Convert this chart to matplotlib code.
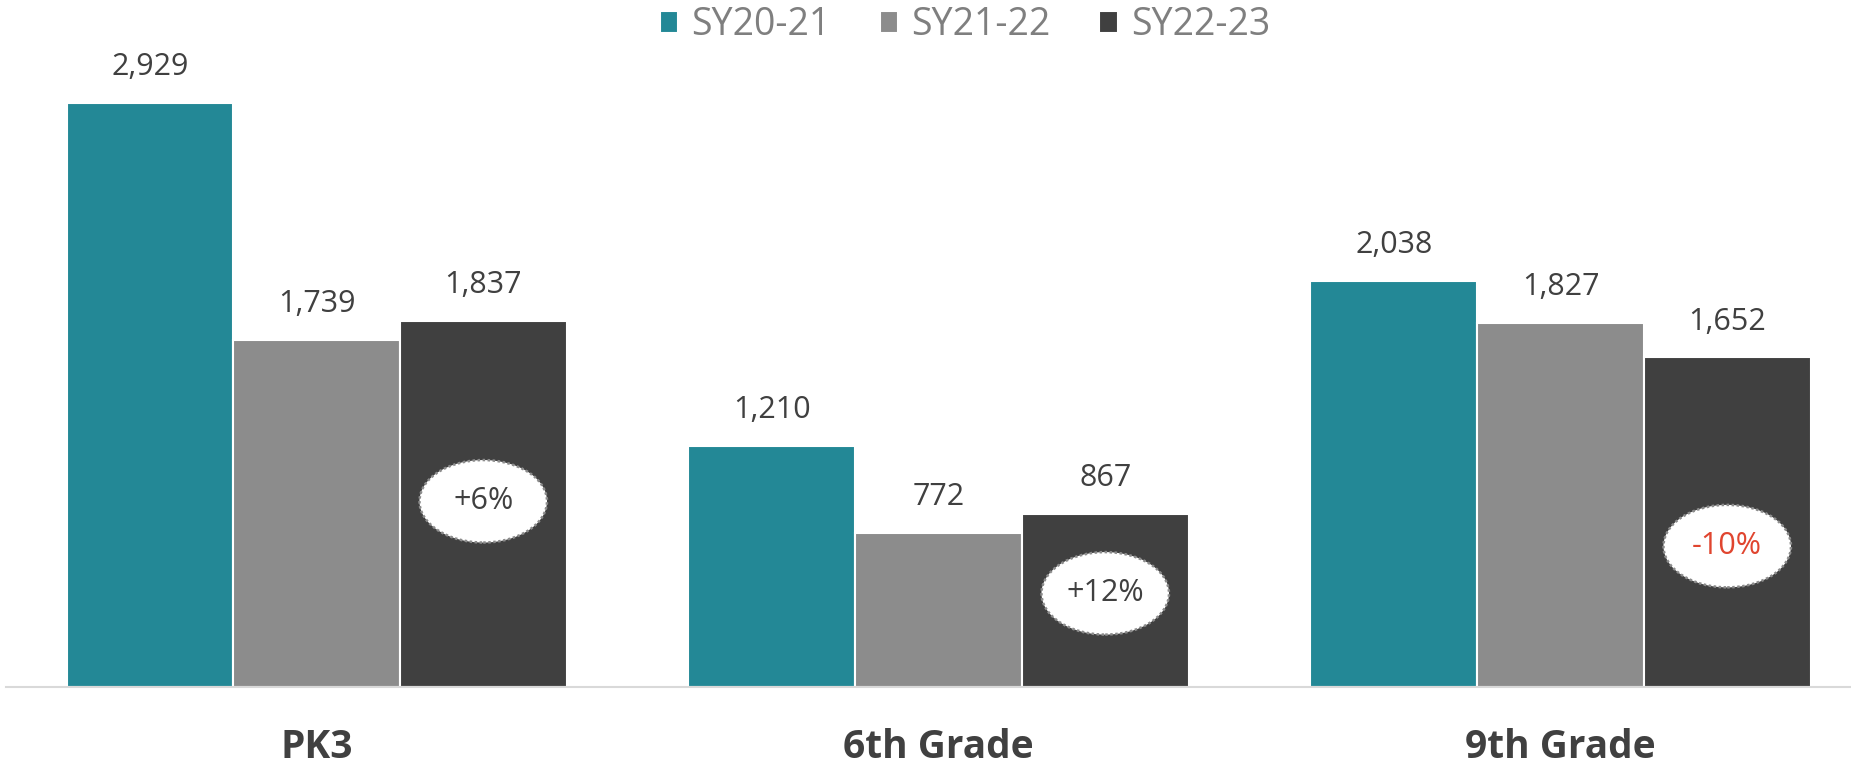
import matplotlib.pyplot as plt
from matplotlib.patches import Ellipse
import numpy as np

# data
grades = ['PK3', '6th Grade', '9th Grade']
years = ['SY20-21', 'SY21-22', 'SY22-23']
sy2021 = [2929, 1210, 2038]
sy2122 = [1739, 772, 1827]
sy2223 = [1837, 867, 1652]
colors = ['#238896', '#8c8c8c', '#404040']

# where the change bubbles sit inside the last bar (data units)
bubble_y = [930, 468, 705]

plt.rcParams['font.family'] = ['Open Sans', 'DejaVu Sans']

fig = plt.figure(figsize=(18.51, 7.68), dpi=100)
ax = fig.add_axes([0.003, 0.106, 0.997, 0.894])

x = np.arange(len(grades))
w = 0.268
series = [sy2021, sy2122, sy2223]
for i, (vals, lab, c) in enumerate(zip(series, years, colors)):
    bars = ax.bar(x + (i - 1) * w, vals, width=w, color=c, edgecolor='white',
                  linewidth=1.5, label=lab)
    for b, v in zip(bars, vals):
        ax.text(b.get_x() + b.get_width() / 2, v + 105, f'{v:,}', ha='center',
                va='bottom', fontsize=22, color='#404040')

# percent change bubbles (SY21-22 -> SY22-23)
for xi, a, b, yb in zip(x, sy2122, sy2223, bubble_y):
    pct = round((b - a) / a * 100)
    txt = f'{pct:+d}%'
    col = '#e0452f' if pct < 0 else '#404040'
    ax.add_patch(Ellipse((xi + w, yb), 0.205, 414, facecolor='white',
                         edgecolor='#8c8c8c', linestyle=(0, (1, 1)), linewidth=1.8,
                         zorder=3))
    ax.text(xi + w, yb, txt, ha='center', va='center', fontsize=22, color=col, zorder=4)

ax.set_xlim(-0.5, 2.467)
ax.set_ylim(0, 3446)
ax.set_xticks(x)
ax.set_xticklabels(grades, fontsize=28, fontweight='bold', color='#404040')
ax.tick_params(axis='x', length=0, pad=30)
ax.set_yticks([])
for s in ['top', 'right', 'left']:
    ax.spines[s].set_visible(False)
ax.spines['bottom'].set_color('#d9d9d9')
ax.spines['bottom'].set_linewidth(1.5)

leg = ax.legend(loc='upper center', bbox_to_anchor=(0.52, 1.04), ncol=3, frameon=False,
                fontsize=27, handlelength=0.5, handleheight=0.5, handletextpad=0.35,
                columnspacing=1.3, labelcolor='#7f7f7f')

fig.savefig('out.png', dpi=100)
